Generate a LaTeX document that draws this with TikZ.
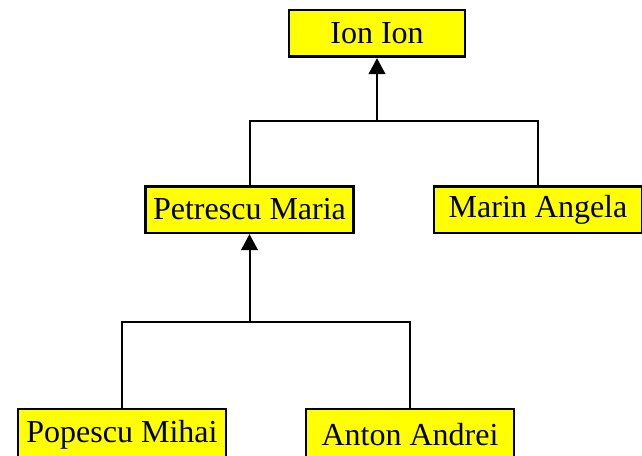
\documentclass[tikz,border=0pt]{standalone}
\usepackage{fontspec}
\setmainfont{Liberation Serif}
\usetikzlibrary{arrows.meta}

\tikzset{every picture/.style={line width=0.75pt}}
\tikzset{
  person/.style={draw, fill={rgb, 255:red, 255; green, 255; blue, 0}, line width=2pt, minimum width=156pt, minimum height=35pt, inner sep=0pt, font=\fontsize{24}{28}\selectfont},
  link/.style={line width=1.5pt},
  uparrow/.style={line width=1.5pt, -{Triangle[length=12pt, width=12.5pt]}}
}

\begin{document}
\begin{tikzpicture}[x=0.75pt,y=0.75pt,yscale=-1,xscale=1]
			\useasboundingbox (0,0) rectangle (642,456);
			\node [person, minimum width=132pt] (ion) at (377,33.5) {Ion Ion};
			\node [person] (pet) at (249.5,209.5) {Petrescu Maria};
			\node [person] (mar) at (538,209.5) {Marin Angela};
			\node [person, minimum height=39pt] (pop) at (122,435) {Popescu Mihai};
			\node [person, minimum height=39pt] (ant) at (410,435) {Anton Andrei};
			% joints
			\coordinate (j1) at (ion.south |- 0,121);
			\coordinate (j2) at (pet.south |- 0,322);
			\draw [link] (pet.north) |- (j1) -| (mar.north);
			\draw [uparrow] (j1) -- (ion.south);
			\draw [link] (pop.north) |- (j2) -| (ant.north);
			\draw [uparrow] (j2) -- (pet.south);
		\end{tikzpicture}
\end{document}
